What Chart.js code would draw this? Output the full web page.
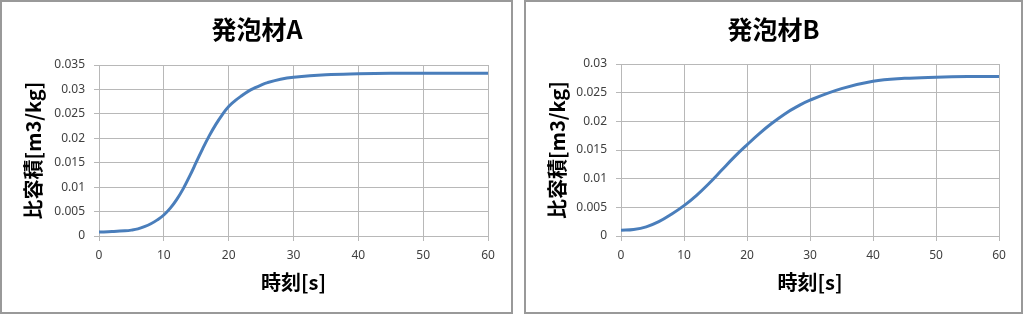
<!DOCTYPE html>
<html>
<head>
<meta charset="utf-8">
<script src="https://cdn.jsdelivr.net/npm/chart.js@4/dist/chart.umd.min.js"></script>
<style>
  body { margin: 0; width: 1024px; height: 314px; background: #fff; position: relative; overflow: hidden; }
  .frame { position: absolute; top: 0; height: 314px; box-sizing: border-box; border: 2px solid #999; }
  canvas { position: absolute; top: 0; }
</style>
</head>
<body>
<div class="frame" style="left:0;width:513px"></div>
<div class="frame" style="left:524px;width:499px"></div>
<canvas id="chartA" width="512" height="314" style="left:0"></canvas>
<canvas id="chartB" width="512" height="314" style="left:512px"></canvas>
<script>
// 発泡材A
const timeA = [0, 2, 4, 5, 6, 7, 8, 9, 10, 11, 12, 13, 14, 15, 16, 17, 18, 19, 20, 21, 22, 23, 24, 25, 26, 28, 30, 35, 40, 45, 50, 55, 60];
const volumeA = [0.0008, 0.0009, 0.00105, 0.0012, 0.00145, 0.0019, 0.0025, 0.0033, 0.0043, 0.0057, 0.0075, 0.0097, 0.0123,
  0.0151, 0.0179, 0.0205, 0.0228, 0.0248, 0.0265, 0.0277, 0.0287, 0.0296, 0.0303, 0.0309, 0.0314, 0.0321, 0.0325,
  0.033, 0.0332, 0.0333, 0.0333, 0.0333, 0.0333];
const yTicksA = ['0', '0.005', '0.01', '0.015', '0.02', '0.025', '0.03', '0.035'];

// 発泡材B
const timeB = [0, 2, 4, 6, 8, 10, 12, 14, 16, 18, 20, 22, 24, 26, 28, 30, 35, 40, 45, 50, 55, 60];
const volumeB = [0.001, 0.00115, 0.0016, 0.0025, 0.0038, 0.0053, 0.0071, 0.0092, 0.0115, 0.0138,
  0.0159, 0.0179, 0.0197, 0.0213, 0.0226, 0.0237, 0.0257, 0.027, 0.0275, 0.0277, 0.0278, 0.0278];
const yTicksB = ['0', '0.005', '0.01', '0.015', '0.02', '0.025', '0.03'];

const xTicks = ['0', '10', '20', '30', '40', '50', '60'];

const jpFont = '"Noto Sans CJK JP", sans-serif';
const numFont = '"Noto Sans", sans-serif';
const gridColor = '#b8b8b8';
const lineColor = '#4a7ebb';

function makeChart(canvasId, cfg) {
  const points = cfg.time.map((t, i) => ({ x: t, y: cfg.values[i] }));
  return new Chart(document.getElementById(canvasId), {
    type: 'line',
    data: {
      datasets: [{
        data: points,
        borderColor: lineColor,
        borderWidth: 3,
        pointRadius: 0,
        tension: 0.4,
        fill: false
      }]
    },
    options: {
      responsive: false,
      animation: false,
      layout: { padding: { left: cfg.padLeft, right: cfg.padRight, top: 0, bottom: 0 } },
      plugins: {
        legend: { display: false },
        tooltip: { enabled: false },
        title: {
          display: true,
          text: cfg.title,
          color: '#000',
          font: { family: jpFont, size: 25, weight: 'bold' },
          padding: { top: 14.5, bottom: cfg.titleBottom }
        }
      },
      scales: {
        x: {
          type: 'linear',
          min: 0,
          max: 60,
          afterFit: s => { s.height = 78; },
          ticks: {
            stepSize: 10,
            padding: 7,
            color: '#404040',
            font: { family: numFont, size: 12 },
            callback: (v, i) => xTicks[i]
          },
          grid: { color: gridColor, tickLength: 5 },
          border: { color: gridColor },
          title: {
            display: true,
            text: '時刻[s]',
            color: '#000',
            font: { family: jpFont, size: 20, weight: 'bold' },
            padding: { top: 0, bottom: 20 }
          }
        },
        y: {
          min: 0,
          max: cfg.yMax,
          afterFit: s => { s.width = cfg.yWidth; },
          ticks: {
            stepSize: 0.005,
            padding: 9,
            color: '#404040',
            font: { family: numFont, size: 12 },
            callback: (v, i) => cfg.yTicks[i]
          },
          grid: { color: gridColor, tickLength: 5 },
          border: { color: gridColor },
          title: {
            display: true,
            text: '比容積[m3/kg]',
            color: '#000',
            font: { family: jpFont, size: 20, weight: 'bold' },
            padding: { top: cfg.yTitlePad, bottom: 0 }
          }
        }
      }
    }
  });
}

makeChart('chartA', {
  title: '発泡材A', time: timeA, values: volumeA, yMax: 0.035, yTicks: yTicksA,
  padLeft: 26, padRight: 24, yWidth: 73, yTitlePad: -5, titleBottom: 20.5
});

makeChart('chartB', {
  title: '発泡材B', time: timeB, values: volumeB, yMax: 0.03, yTicks: yTicksB,
  padLeft: 36, padRight: 25, yWidth: 73, yTitlePad: -3, titleBottom: 19.5
});
</script>
</body>
</html>
